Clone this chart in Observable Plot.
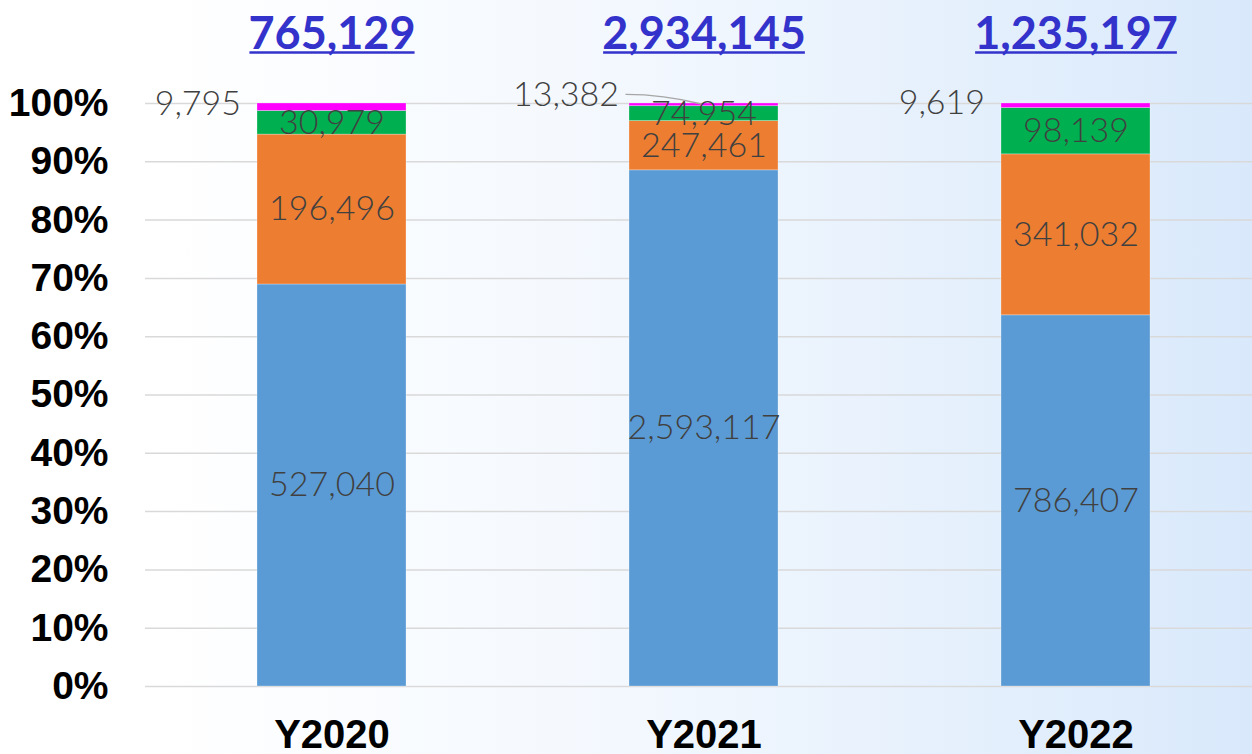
<!DOCTYPE html>
<html>
<head>
<meta charset="utf-8">
<script src="https://cdn.jsdelivr.net/npm/d3@7"></script>
<script src="https://cdn.jsdelivr.net/npm/@observablehq/plot@0.6"></script>
<style>
  html, body { margin: 0; padding: 0; overflow: hidden; }
  #wrap { width: 1252px; height: 754px; background: linear-gradient(to right, #ffffff 12%, #f3f8fe 50%, #d9e9fb 100%); }
</style>
</head>
<body>
<div id="wrap"></div>
<script>
const years = ["Y2020", "Y2021", "Y2022"];
const seriesNames = ["A", "B", "C", "D"];
const seriesColors = ["#5b9bd5", "#ed7d31", "#00b050", "#ff00ff"];
const blueVals = [527040, 2593117, 786407];
const orangeVals = [196496, 247461, 341032];
const greenVals = [30979, 74954, 98139];
const magentaVals = [9795, 13382, 9619];
const totals = [765129, 2934145, 1235197];
const yTicks = [0, 0.1, 0.2, 0.3, 0.4, 0.5, 0.6, 0.7, 0.8, 0.9, 1];

const seriesVals = [blueVals, orangeVals, greenVals, magentaVals];
const data = [];
years.forEach((yr, i) => {
  seriesNames.forEach((s, j) => data.push({year: yr, series: s, value: seriesVals[j][i]}));
});
const totalData = years.map((yr, i) => ({year: yr, total: totals[i]}));
const fmt = d3.format(",");

const stackOpts = (extra) => Plot.stackY({x: "year", y: "value", z: "series", offset: "normalize", order: seriesNames, ...extra});

const labelFont = "Lato, 'Open Sans', sans-serif";

const chart = Plot.plot({
  width: 1252,
  height: 754,
  marginLeft: 145,
  marginRight: -9,
  marginTop: 103,
  marginBottom: 68,
  style: {background: "transparent", overflow: "visible"},
  x: {domain: years, paddingInner: 0.6, paddingOuter: 0.3, label: null},
  y: {domain: [0, 1], label: null},
  color: {domain: seriesNames, range: seriesColors},
  marks: [
    Plot.ruleY(yTicks, {stroke: "#d9d9d9", strokeWidth: 1.5}),
    Plot.barY(data, stackOpts({fill: "series", stroke: "#ffffff", strokeOpacity: 0.35, strokeWidth: 0.8})),
    Plot.text(data, stackOpts({
      text: d => d.series === "D" ? null : fmt(d.value),
      fill: "#404040", fontSize: 34, fontWeight: 300, fontFamily: labelFont
    })),
    Plot.text(data, stackOpts({
      text: d => d.series === "D" && d.year !== "Y2021" ? fmt(d.value) : null,
      fill: "#404040", fontSize: 34, fontWeight: 300, fontFamily: labelFont,
      textAnchor: "end", dx: -91, dy: -3
    })),
    Plot.text(data, stackOpts({
      text: d => d.series === "D" && d.year === "Y2021" ? fmt(d.value) : null,
      fill: "#404040", fontSize: 34, fontWeight: 300, fontFamily: labelFont,
      textAnchor: "end", dx: -85, dy: -10
    })),
    Plot.text(totalData, {
      x: "year", text: d => fmt(d.total), frameAnchor: "top", dy: -86,
      fill: "#3333cc", fontSize: 45, fontWeight: "bold", fontFamily: "Lato, 'Liberation Sans', sans-serif"
    }),
    Plot.axisY(yTicks, {tickSize: 0, tickPadding: 37, tickFormat: d3.format(".0%"), fontSize: 39, fontWeight: "bold", fill: "#000", fontFamily: "'Liberation Sans', Arial, sans-serif"}),
    Plot.axisX({tickSize: 0, tickPadding: 33, fontSize: 40, fontWeight: "bold", fill: "#000", fontFamily: "'Liberation Sans', Arial, sans-serif"})
  ]
});

document.getElementById("wrap").append(chart);

// leader line for the Y2021 top label
const xs = chart.scale("x");
const ys = chart.scale("y");
const cx = xs.apply("Y2021") + xs.bandwidth / 2;
const sum21 = blueVals[1] + orangeVals[1] + greenVals[1] + magentaVals[1];
const midTop = 1 - (magentaVals[1] / sum21) / 2;
const ly = ys.apply(midTop) - 10;
d3.select(chart).append("path")
  .attr("d", `M${cx - 78},${ly} Q${cx - 40},${ly} ${cx - 2},${ys.apply(1) + 1}`)
  .attr("fill", "none").attr("stroke", "#a6a6a6").attr("stroke-width", 1.3);

// underline the total labels
const totalStrings = new Set(totals.map(fmt));
const svgRect = chart.getBoundingClientRect();
const seen = new Set();
d3.select(chart).selectAll("text").filter(function() {
  return totalStrings.has(this.textContent);
}).each(function() {
  const r = this.getBoundingClientRect();
  const key = Math.round(r.left) + "," + Math.round(r.top);
  if (seen.has(key) || r.width === 0) return;
  seen.add(key);
  const x0 = r.left - svgRect.left, x1 = r.right - svgRect.left;
  const yb = r.bottom - svgRect.top - 7;
  d3.select(chart).append("line")
    .attr("x1", x0 + 1).attr("x2", x1 - 1)
    .attr("y1", yb).attr("y2", yb)
    .attr("stroke", "#3333cc").attr("stroke-width", 2.5);
});
</script>
</body>
</html>
